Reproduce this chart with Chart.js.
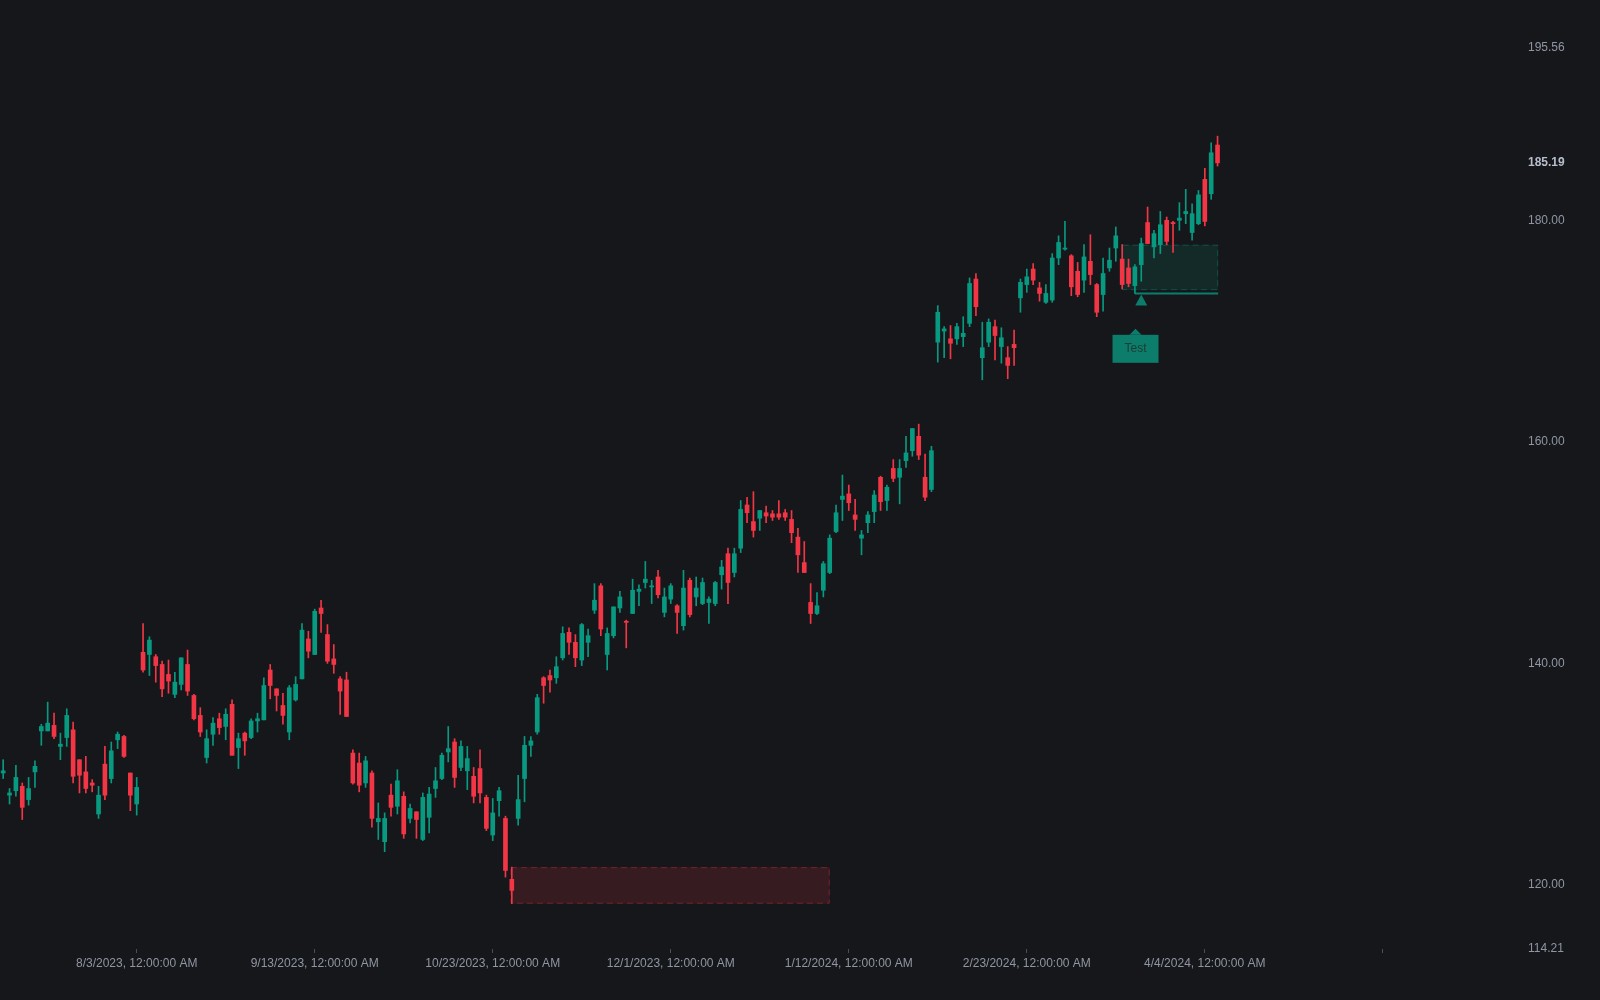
<!DOCTYPE html>
<html><head><meta charset="utf-8">
<script src="https://cdn.jsdelivr.net/npm/chart.js@4"></script>
<style>html,body{margin:0;padding:0;background:#16171b;}#wrap{width:1600px;height:1000px;}</style>
</head><body><div id="wrap"><canvas id="c" width="1600" height="1000"></canvas></div>
<script>
const opens=[130.1,128.1,128.5,128.9,127.7,130.2,133.9,133.9,134.4,132.5,
133.3,134.0,131.3,130.2,129.2,126.4,130.9,129.6,133.1,133.4,
130.1,127.3,141.0,140.8,140.6,139.9,139.0,137.2,138.1,139.9,
137.1,135.3,131.5,133.6,135.0,134.3,136.3,132.4,133.7,133.3,
134.8,134.9,139.4,137.7,136.2,133.8,136.7,138.6,142.2,140.8,
145.0,142.6,140.4,138.6,138.5,131.9,131.0,129.2,130.1,125.7,
123.9,128.1,127.1,128.0,126.0,126.6,124.1,126.1,128.7,129.6,
132.0,132.9,130.6,130.3,129.8,130.5,127.9,124.5,127.6,126.0,
120.5,126.0,129.6,132.6,133.8,138.7,138.9,138.7,140.5,142.8,
141.9,140.3,141.9,144.8,147.0,140.8,142.5,145.0,143.8,144.5,
146.5,147.3,146.9,147.8,144.6,145.8,145.2,143.4,147.5,146.0,
145.4,145.5,145.4,148.0,149.9,148.2,150.4,154.3,152.8,153.1,
153.6,153.5,153.5,153.6,153.0,151.4,149.1,145.5,144.5,146.6,
148.2,151.9,154.8,155.3,153.4,151.3,152.7,153.7,156.8,154.7,
157.6,156.8,158.3,159.2,160.5,156.8,155.7,169.0,170.0,169.3,
169.3,169.5,170.7,174.7,167.6,169.0,170.4,168.6,167.6,168.8,
173.0,174.2,175.6,173.9,172.6,172.8,176.6,177.4,176.8,175.4,
174.6,176.3,174.2,173.3,175.7,177.5,176.5,175.7,174.1,176.0,
179.8,177.6,177.8,180.0,179.8,180.0,180.6,178.9,179.7,183.7,
182.4,186.8];
const closes=[130.3,128.3,129.7,127.0,128.7,130.7,134.3,134.6,133.4,132.7,
135.3,129.8,129.9,128.7,129.0,128.1,128.1,132.1,133.6,131.6,
128.1,128.8,139.4,142.1,139.8,137.7,138.4,138.3,140.5,137.5,
135.0,133.8,133.2,134.6,134.2,135.4,131.7,133.2,133.0,134.8,
135.0,138.0,138.0,137.1,135.3,137.8,138.1,143.0,141.1,144.7,
144.5,140.2,139.9,137.5,135.2,129.2,129.0,131.2,126.0,126.0,
126.0,127.0,129.4,124.6,126.9,125.9,127.9,128.2,129.4,131.7,
132.3,129.7,132.5,131.4,128.0,128.3,125.1,126.5,128.5,121.3,
119.5,127.7,132.6,133.0,136.9,138.0,138.5,139.7,142.7,141.9,
140.5,143.5,142.5,145.7,143.1,142.7,145.1,146.0,143.7,146.6,
146.7,147.6,147.0,146.2,146.0,147.0,144.6,146.8,144.4,146.8,
147.3,145.8,147.3,148.7,147.3,149.9,153.9,153.6,152.0,153.8,
153.3,153.2,153.2,153.2,151.8,149.8,148.2,144.5,145.2,149.0,
151.3,153.6,155.1,154.5,153.0,151.6,153.4,155.2,154.6,155.9,
156.7,157.6,159.0,161.2,158.8,155.0,159.2,171.7,170.2,168.9,
170.4,169.8,174.3,172.2,168.5,170.8,169.6,169.4,166.9,168.5,
174.4,174.9,174.6,173.4,173.4,176.6,178.0,177.5,174.0,173.3,
176.7,175.1,171.7,175.2,176.4,178.6,174.2,174.3,175.8,177.9,
177.9,178.8,179.6,178.1,179.7,180.2,180.8,180.6,182.3,179.9,
186.1,185.19];
const highs=[131.3,128.7,130.8,129.2,129.7,131.2,134.5,136.5,135.5,133.7,
135.9,134.7,131.3,131.6,129.5,128.9,132.5,132.9,133.8,133.5,
130.1,129.7,143.6,142.4,140.8,140.2,140.3,139.2,140.5,141.2,
137.2,136.0,134.0,135.1,135.5,135.9,136.7,133.7,133.8,135.0,
135.5,138.7,139.9,137.7,137.3,138.0,138.8,143.6,142.9,144.9,
145.7,143.5,141.7,138.8,139.2,132.2,131.9,131.6,130.3,127.4,
126.5,129.1,130.4,128.4,127.3,126.6,128.3,128.8,130.6,131.9,
134.3,133.2,133.0,132.5,130.6,132.2,128.1,127.8,128.8,126.2,
121.6,129.9,133.4,133.4,137.2,138.8,139.4,140.6,143.3,143.2,
142.6,143.6,143.1,147.2,147.2,143.2,145.1,146.5,143.9,147.6,
147.1,149.2,147.5,148.4,146.8,147.2,145.3,148.4,147.7,147.8,
147.7,146.0,147.4,149.3,150.4,150.4,154.7,155.0,155.5,153.8,
154.2,153.8,154.7,153.9,153.8,152.2,151.0,147.2,146.4,149.2,
151.6,154.3,157.0,156.1,154.8,152.0,153.7,155.6,156.9,156.1,
158.4,158.4,160.5,161.2,161.6,158.9,159.6,172.3,170.4,170.5,
170.7,171.3,174.8,175.2,170.8,171.1,171.0,170.3,168.6,170.1,
174.7,175.6,176.1,174.4,174.2,177.0,178.6,179.9,176.9,176.2,
177.8,178.7,174.3,176.6,177.5,179.4,177.8,176.5,176.0,178.4,
181.2,179.1,180.8,180.3,179.9,181.6,182.8,181.5,182.7,184.7,
187.0,187.6];
const lows=[129.6,127.3,128.0,125.9,127.2,128.8,132.6,133.9,133.2,131.3,
132.5,129.2,128.3,128.3,128.4,126.0,127.7,129.2,132.3,131.5,
126.7,126.3,139.2,138.9,138.3,137.0,137.3,136.9,137.6,137.1,
134.9,133.4,131.0,132.6,133.6,133.1,131.7,130.5,131.7,133.2,
133.8,134.9,136.8,135.7,134.5,133.1,136.6,138.6,140.5,140.8,
142.8,140.0,139.1,135.4,135.2,129.1,128.4,128.8,125.2,124.1,
123.0,126.2,126.4,124.2,125.6,124.2,124.0,124.7,127.9,129.5,
131.1,128.8,130.3,128.6,127.4,127.4,124.9,124.0,126.2,120.7,
118.3,125.4,127.5,131.6,133.6,136.4,137.4,138.2,140.3,140.8,
139.7,139.8,140.6,144.5,142.5,139.4,142.3,144.6,141.4,144.5,
145.2,146.8,145.4,145.9,144.2,145.4,142.7,143.0,144.2,145.2,
145.3,143.6,145.2,146.7,145.4,147.8,150.0,152.7,151.4,152.0,
152.7,152.9,153.0,152.9,150.9,148.2,148.2,143.6,144.4,146.0,
148.1,151.8,152.9,153.8,152.0,149.8,151.8,152.7,153.8,153.8,
156.4,154.4,157.7,158.7,158.4,154.7,155.5,167.2,167.6,167.5,
168.8,168.6,170.4,171.4,165.6,168.6,167.4,167.1,165.7,166.9,
171.7,173.5,174.2,172.7,172.5,172.6,176.0,177.3,173.2,173.1,
173.5,174.2,171.3,171.8,175.4,176.3,173.8,174.0,173.4,174.5,
177.9,176.6,177.0,177.8,177.1,179.1,179.7,178.2,179.6,179.5,
181.9,184.9];
const xTickIndex=[21,49,77,105,133,161,189,217];
const xTickLabels=['8/3/2023, 12:00:00 AM','9/13/2023, 12:00:00 AM','10/23/2023, 12:00:00 AM','12/1/2023, 12:00:00 AM','1/12/2024, 12:00:00 AM','2/23/2024, 12:00:00 AM','4/4/2024, 12:00:00 AM',''];
const yTicks=[114.21,120,140,160,180,185.19,195.56];
const lastPrice=185.19;
const redZone={xMin:79.8,xMax:130.0,yMin:118.3,yMax:121.6};
const greenZone={xMin:176.0,xMax:191.1,yMin:173.7,yMax:177.8};
const greenLine={xMin:178.0,xMax:191.1,y:173.4};
const marker={x:179.0,y:173.3};
const label={x:178.1,y:168.4,text:'Test'};

const UP='#089981',DOWN='#f23645';
const idx=opens.map((_,i)=>i);
const cols=idx.map(i=>closes[i]>=opens[i]?UP:DOWN);
const wicks=idx.map(i=>({x:i,y:[lows[i],highs[i]]}));
const bodies=idx.map(i=>({x:i,y:[opens[i],closes[i]]}));

const annot={id:'annot',
 beforeDatasetsDraw(ch){const c=ch.ctx,x=ch.scales.x,y=ch.scales.y;
  function box(z,fill,stroke){const x0=x.getPixelForValue(z.xMin),x1=x.getPixelForValue(z.xMax),y0=y.getPixelForValue(z.yMax),y1=y.getPixelForValue(z.yMin);
   c.save();c.fillStyle=fill;c.fillRect(x0,y0,x1-x0,y1-y0);c.setLineDash([6,4]);c.strokeStyle=stroke;c.lineWidth=1;c.strokeRect(x0+0.5,y0+0.5,x1-x0-1,y1-y0-1);c.restore();}
  box(redZone,'rgba(242,54,69,0.15)','rgba(242,54,69,0.35)');
  box(greenZone,'rgba(8,153,129,0.15)','rgba(8,153,129,0.35)');
 },
 afterDatasetsDraw(ch){const c=ch.ctx,x=ch.scales.x,y=ch.scales.y;
  c.save();
  c.strokeStyle='rgba(8,153,129,0.8)';c.lineWidth=2;c.beginPath();
  const ly=y.getPixelForValue(greenLine.y);c.moveTo(x.getPixelForValue(greenLine.xMin),ly);c.lineTo(x.getPixelForValue(greenLine.xMax),ly);c.stroke();
  const mx=x.getPixelForValue(marker.x),my=y.getPixelForValue(marker.y);
  c.fillStyle='#0b7d6a';c.beginPath();c.moveTo(mx,my);c.lineTo(mx+6,my+11);c.lineTo(mx-6,my+11);c.closePath();c.fill();
  const lx=x.getPixelForValue(label.x),lyc=y.getPixelForValue(label.y);
  const w=46,h=28;c.fillStyle='#0b7d6a';c.fillRect(lx-w/2,lyc-h/2,w,h);
  c.beginPath();c.moveTo(lx,lyc-h/2-6);c.lineTo(lx+6,lyc-h/2);c.lineTo(lx-6,lyc-h/2);c.closePath();c.fill();
  c.fillStyle='#1f3b36';c.font='12px "Liberation Sans", Arial, sans-serif';c.textAlign='center';c.textBaseline='middle';c.fillText(label.text,lx,lyc);
  c.restore();}
};

new Chart(document.getElementById('c'),{
 type:'bar',
 data:{datasets:[
  {data:wicks,backgroundColor:cols,barThickness:1,grouped:false,order:2},
  {data:bodies,backgroundColor:cols,barThickness:4,minBarLength:1,grouped:false,order:1}
 ]},
 options:{responsive:false,animation:false,events:[],
  layout:{padding:{top:48,left:0,right:0,bottom:0}},
  plugins:{legend:{display:false},tooltip:{enabled:false}},
  scales:{
   x:{type:'linear',min:-0.5,max:237,offset:false,
    afterBuildTicks(s){s.ticks=xTickIndex.map(v=>({value:v}));},
    afterFit(s){s.height=51;},
    grid:{offset:false,drawOnChartArea:false,drawTicks:true,tickLength:4,color:'#4a4e57'},
    border:{display:false},
    ticks:{autoSkip:false,maxRotation:0,padding:3,color:'#8f96a3',font:{size:12,family:'"Liberation Sans", Arial, sans-serif'},
     callback(v){const k=xTickIndex.indexOf(v);return k>=0?xTickLabels[k]:'';}}
   },
   y:{type:'linear',position:'right',min:114.21,max:195.56,
    afterBuildTicks(s){s.ticks=yTicks.map(v=>({value:v}));},
    afterFit(s){s.width=90;},
    grid:{display:false,drawTicks:false},border:{display:false},
    ticks:{padding:18,crossAlign:'near',
     color:c=>c.tick&&c.tick.value===lastPrice?'#b8bfcc':'#8f96a3',
     font:c=>({size:12,family:'"Liberation Sans", Arial, sans-serif',weight:(c.tick&&c.tick.value===lastPrice)?'bold':'normal'}),
     callback(v){return Number(v).toFixed(2);}}
   }
  }
 },
 plugins:[annot]
});
</script></body></html>
